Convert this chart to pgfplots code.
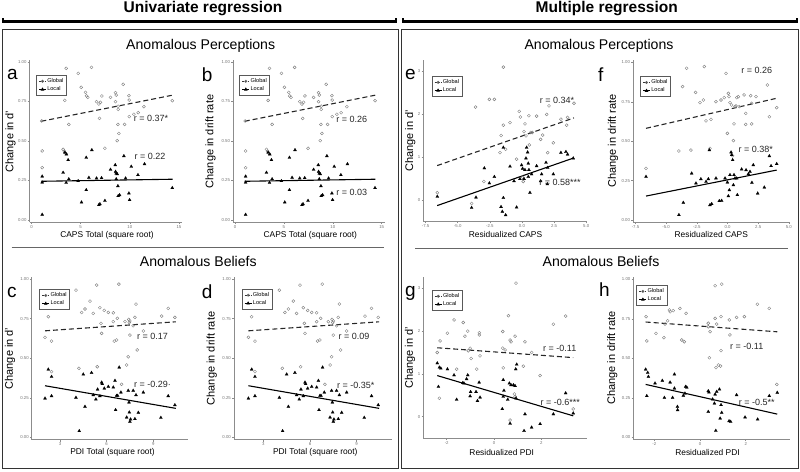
\documentclass[border=0pt]{standalone}
\usepackage{fontspec}
\setmainfont{Liberation Sans}
\usepackage{pgfplots}
\pgfplotsset{compat=1.18}
\usepackage{pgfplotstable}
\newcommand{\fs}[1]{\fontsize{#1}{#1}\selectfont}

% ---------- data ----------
\pgfplotstableread{
x y
1.04 0.627
1.09 0.437
1.09 0.331
3.39 0.757
3.53 0.96
3.80 0.605
3.22 0.447
3.49 0.42
3.35 0.435
4.75 0.928
5.06 0.84
5.50 0.808
5.60 0.785
5.73 0.776
6.10 0.966
6.62 0.749
6.85 0.734
7.02 0.745
7.16 0.785
6.92 0.643
7.47 0.454
8.04 0.776
8.55 0.806
8.62 0.791
8.55 0.749
8.82 0.70
8.82 0.72
8.79 0.605
8.89 0.548
8.72 0.502
9.33 0.859
9.47 0.605
9.91 0.787
9.94 0.759
9.95 0.654
10.42 0.669
10.86 0.679
11.44 0.717
14.32 0.755
}\aG
\pgfplotstableread{
x y
1.09 0.034
1.09 0.276
1.09 0.238
3.22 0.30
3.39 0.428
3.56 0.416
3.73 0.38
3.53 0.236
3.80 0.259
4.75 0.247
5.09 0.112
5.57 0.395
5.57 0.19
5.84 0.268
6.14 0.443
6.62 0.264
6.85 0.095
6.96 0.101
7.13 0.266
7.47 0.122
8.04 0.319
8.52 0.348
8.55 0.306
8.62 0.295
8.72 0.291
8.79 0.215
8.82 0.152
8.96 0.158
8.62 0.259
9.40 0.405
9.57 0.264
9.91 0.169
9.98 0.127
10.15 0.338
10.83 0.285
11.50 0.354
14.32 0.203
}\aL
\pgfplotstableread{
x y
2.04 0.632
2.25 0.762
2.46 0.608
2.46 0.415
4.03 0.93
4.22 0.436
4.39 0.789
4.61 0.811
4.93 0.861
5.14 0.783
5.36 0.962
5.40 0.446
5.57 0.819
5.64 0.72
5.68 0.657
5.85 0.802
6.11 0.789
6.43 0.787
6.43 0.731
6.49 0.608
6.64 0.615
6.69 0.752
6.79 0.968
6.96 0.335
7.18 0.731
7.29 0.457
7.39 0.509
7.50 0.646
7.42 0.745
7.50 0.735
7.46 0.725
7.71 0.705
7.82 0.758
7.89 0.842
7.97 0.552
8.36 0.672
9.54 0.766
9.96 0.815
10.39 0.758
}\cG
\pgfplotstableread{
x y
2.04 0.246
2.25 0.429
2.46 0.383
2.46 0.261
4.03 0.251
4.24 0.04
4.50 0.398
4.61 0.194
5.03 0.408
5.14 0.267
5.31 0.24
5.42 0.303
5.57 0.261
5.68 0.347
5.72 0.337
5.85 0.309
6.11 0.32
6.43 0.316
6.54 0.358
6.58 0.173
6.64 0.263
6.71 0.263
6.81 0.442
6.92 0.284
7.29 0.126
7.39 0.295
7.44 0.221
7.46 0.158
7.50 0.099
7.54 0.114
7.71 0.295
7.82 0.116
7.89 0.267
8.04 0.156
8.36 0.284
9.49 0.124
9.96 0.261
10.39 0.204
}\cL
\pgfplotstableread{
x y
-6.59 0.17
-3.92 -0.08
-3.61 2.16
-2.54 2.34
-2.15 2.34
-2.96 0.43
-1.63 1.50
-1.45 1.74
-1.45 3.09
-1.71 1.10
-1.27 1.18
-0.93 1.80
-0.42 0.95
-0.21 2.06
-0.13 1.93
0.05 0.53
0.10 0.43
0.16 1.59
0.23 1.77
0.31 1.49
0.54 1.96
0.57 1.28
0.67 1.57
0.80 1.57
1.14 1.95
1.45 1.41
1.61 1.51
1.92 1.99
2.00 1.10
2.10 2.19
2.44 1.33
3.03 1.88
3.48 1.74
3.55 1.92
4.05 2.25
}\eG
\pgfplotstableread{
x y
-6.59 0.08
-3.92 -0.18
-3.58 0.06
-2.93 0.74
-2.54 0.39
-2.15 0.54
-1.63 -0.16
-1.53 -0.27
-1.45 0.05
-1.45 1.22
-1.27 -0.35
-0.93 0.78
-0.62 0.44
-0.42 -0.17
-0.16 0.49
-0.03 0.81
0.05 0.73
0.16 0.49
0.23 0.70
0.31 0.97
0.36 1.22
0.44 1.11
0.49 0.85
0.54 0.70
0.49 0.54
0.62 0.17
0.75 0.60
1.14 0.79
1.45 0.44
1.53 0.60
1.87 0.87
2.00 0.75
1.97 0.37
2.44 0.60
3.03 1.10
3.42 1.12
3.55 1.06
3.99 0.97
}\eL
\pgfplotstableread{
x y
-6.64 0.328
-3.96 0.438
-3.66 0.847
-2.98 0.444
-2.60 0.81
-3.33 0.963
-1.89 0.974
-2.24 0.745
-1.97 0.762
-1.75 0.629
-1.35 0.639
-1.43 0.455
-0.94 0.751
-0.53 0.762
-0.26 0.777
-0.12 0.931
-0.01 0.55
0.07 0.804
0.12 0.783
0.20 0.745
0.34 0.73
0.42 0.408
0.48 0.504
0.53 0.61
0.61 0.72
0.75 0.777
0.69 0.724
0.88 0.783
0.96 0.72
1.35 0.794
1.48 0.677
1.48 0.607
1.89 0.789
1.97 0.741
1.97 0.61
2.32 0.783
3.25 0.857
3.41 0.656
4.01 0.713
}\fG
\pgfplotstableread{
x y
-6.64 0.275
-3.96 0.032
-3.60 0.11
-2.92 0.296
-2.57 0.233
-2.17 0.26
-1.75 0.243
-1.56 0.26
-1.48 0.444
-1.43 0.095
-1.29 0.102
-0.94 0.265
-0.67 0.121
-0.48 0.123
-0.20 0.265
-0.01 0.239
0.07 0.152
0.15 0.19
0.20 0.286
0.29 0.43
0.34 0.413
0.42 0.381
0.48 0.222
0.53 0.286
0.61 0.265
0.75 0.265
0.80 0.159
1.15 0.322
1.51 0.317
1.70 0.292
1.83 0.307
1.99 0.237
2.10 0.349
2.46 0.169
3.00 0.207
3.41 0.406
3.55 0.343
4.01 0.356
}\fL
\pgfplotstableread{
x y
-2.40 1.50
-2.31 0.43
-2.28 1.77
-1.97 1.95
-1.69 2.26
-1.58 1.11
-1.30 2.20
-1.23 1.88
-1.11 2.00
-1.09 1.54
-0.97 1.36
-1.01 1.60
-0.73 1.11
-0.62 1.96
-0.62 1.91
-0.59 1.42
0.37 1.99
0.37 1.60
0.39 1.14
0.47 1.56
0.61 2.36
0.68 1.79
0.72 1.75
0.68 -0.08
0.89 1.88
0.93 3.12
0.89 0.47
0.86 0.53
1.24 1.18
1.31 1.75
1.59 1.50
1.95 0.96
2.51 2.16
3.03 2.35
3.35 0.18
}\gG
\pgfplotstableread{
x y
-2.40 1.25
-2.35 0.70
-2.31 1.15
-2.25 1.13
-1.97 1.11
-1.69 0.97
-1.58 0.40
-1.32 0.79
-1.27 0.78
-1.16 0.88
-1.11 0.97
-1.01 0.48
-0.99 0.58
-0.76 0.58
-0.70 0.37
-0.63 0.80
-0.59 0.45
0.35 0.18
0.39 0.86
0.42 0.61
0.39 0.47
0.58 0.40
0.65 0.78
0.68 -0.16
0.72 0.74
0.82 0.74
0.89 0.72
0.92 1.11
0.96 1.22
0.93 0.43
1.27 -0.33
1.31 0.06
1.59 -0.25
1.95 -0.17
2.51 0.06
3.03 0.55
3.35 0.08
}\gL
\pgfplotstableread{
x y
-2.36 0.764
-2.33 0.61
-1.93 0.658
-1.58 0.631
-1.60 0.932
-1.42 0.738
-1.53 0.717
-1.34 0.806
-1.31 0.795
-1.17 0.802
-0.88 0.816
-0.80 0.616
-0.69 0.605
-0.61 0.785
0.36 0.722
0.36 0.70
0.41 0.504
0.44 0.669
0.66 0.96
0.66 0.753
0.73 0.717
0.70 0.441
0.80 0.458
0.92 0.764
0.95 0.97
0.92 0.549
0.90 0.451
1.28 0.743
1.31 0.648
1.60 0.759
1.94 0.764
2.51 0.842
3.03 0.816
3.36 0.335
}\hG
\pgfplotstableread{
x y
-2.38 0.43
-2.33 0.262
-2.29 0.409
-2.26 0.384
-1.97 0.342
-1.65 0.359
-1.56 0.251
-1.31 0.348
-1.20 0.251
-1.12 0.399
-1.12 0.31
-0.99 0.194
-0.98 0.173
-0.73 0.264
-0.66 0.278
-0.63 0.321
-0.58 0.316
0.36 0.293
0.39 0.285
0.36 0.162
0.55 0.241
0.63 0.215
0.66 0.272
0.69 0.042
0.73 0.289
0.85 0.304
0.92 0.205
0.95 0.156
0.88 0.12
1.27 0.103
1.34 0.099
1.60 0.268
1.97 0.127
2.52 0.114
3.03 0.262
3.38 0.283
}\hL

% ---------- styles ----------
\pgfplotsset{
  panel/.style={
    scale only axis, anchor=south west,
    axis lines*=left,
    axis line style={draw=black!45, line width=0.5pt},
    tick style={draw=black!45, line width=0.5pt},
    tick align=outside, major tick length=1.8pt,
    xticklabel style={font=\fs{4.3}, text=black!55, inner sep=1pt},
    yticklabel style={font=\fs{4.3}, text=black!55, inner sep=1pt},
    clip=false,
    legend cell align=left,
    legend style={anchor=north west, draw=black!65, line width=0.8pt, fill=white,
      font=\fs{5.6}, inner xsep=2.2pt, inner ysep=2.2pt, row sep=0.8pt,
      nodes={inner sep=0.9pt}},
    legend image code/.code={\draw[mark repeat=2,mark phase=2,##1] plot coordinates {(0pt,0pt) (3.5pt,0pt) (7pt,0pt)};},
  },
  gpts/.style={only marks, black!50, mark=o, mark size=1.5pt, mark options={draw=black!50, line width=0.4pt}, forget plot},
  lpts/.style={only marks, black, mark=triangle*, mark size=1.8pt, mark options={fill=black, draw=black, line width=0.2pt}, forget plot},
  gline/.style={black!85, line width=1.1pt, dash pattern=on 5pt off 3pt, forget plot, mark=none},
  lline/.style={black, line width=1.1pt, forget plot, mark=none},
  gkey/.style={black!80, line width=0.7pt, dash pattern=on 2pt off 1pt, mark=o, mark options={solid, scale=0.55, draw=black!60}},
  lkey/.style={black, line width=0.7pt, mark=triangle*, mark options={scale=0.7}},
  unit/.style={ymin=-0.013, ymax=1.013, ytick={0,0.25,0.5,0.75,1}, yticklabels={0.00,0.25,0.50,0.75,1.00}},
}

\begin{document}
\begin{tikzpicture}
% ===== a =====
\begin{axis}[panel, unit, at={(29.5pt,248.95pt)}, width=152.4pt, height=162.1pt,
  xmin=-0.2, xmax=15.3, xtick={0,5,10,15}, xticklabels={0,5,10,15},
  legend style={at={(0.043,0.907)}}]
\addlegendimage{gkey}\addlegendentry{Global}
\addlegendimage{lkey}\addlegendentry{Local}
\addplot[gpts] table {\aG};
\addplot[lpts] table {\aL};
\addplot[gline] coordinates {(1,0.625) (14.35,0.79)};
\addplot[lline] coordinates {(1,0.245) (14.35,0.258)};
\end{axis}
% ===== b =====
\begin{axis}[panel, unit, at={(233pt,248.95pt)}, width=151.6pt, height=162.1pt,
  xmin=-0.2, xmax=15.3, xtick={0,5,10,15}, xticklabels={0,5,10,15},
  legend style={at={(0.042,0.907)}}]
\addlegendimage{gkey}\addlegendentry{Global}
\addlegendimage{lkey}\addlegendentry{Local}
\addplot[gpts] table {\aG};
\addplot[lpts] table {\aL};
\addplot[gline] coordinates {(1,0.625) (14.35,0.79)};
\addplot[lline] coordinates {(1,0.245) (14.35,0.258)};
\end{axis}
% ===== c =====
\begin{axis}[panel, at={(31.65pt,31.3pt)}, width=156.6pt, height=163pt,
  ymin=-0.015, ymax=1.015, ytick={0,0.25,0.5,0.75,1}, yticklabels={0.00,0.25,0.50,0.75,1.00},
  xmin=1.18, xmax=11.25, xtick={3,6,9}, xticklabels={3,6,9},
  legend style={at={(0.049,0.923)}}]
\addlegendimage{gkey}\addlegendentry{Global}
\addlegendimage{lkey}\addlegendentry{Local}
\addplot[gpts] table {\cG};
\addplot[lpts] table {\cL};
\addplot[gline] coordinates {(2.04,0.673) (10.45,0.73)};
\addplot[lline] coordinates {(2.04,0.326) (10.45,0.183)};
\end{axis}
% ===== d =====
\begin{axis}[panel, at={(233.8pt,31.3pt)}, width=157.8pt, height=163pt,
  ymin=-0.015, ymax=1.015, ytick={0,0.25,0.5,0.75,1}, yticklabels={0.00,0.25,0.50,0.75,1.00},
  xmin=1.1, xmax=11.25, xtick={3,6,9}, xticklabels={3,6,9},
  legend style={at={(0.05,0.925)}}]
\addlegendimage{gkey}\addlegendentry{Global}
\addlegendimage{lkey}\addlegendentry{Local}
\addplot[gpts] table {\cG};
\addplot[lpts] table {\cL};
\addplot[gline] coordinates {(2.04,0.673) (10.45,0.73)};
\addplot[lline] coordinates {(2.04,0.326) (10.45,0.183)};
\end{axis}
% ===== e =====
\begin{axis}[panel, at={(423.3pt,249.5pt)}, width=163.3pt, height=161.25pt,
  ymin=-0.5, ymax=3.25, ytick={0,1,2,3}, yticklabels={0,1,2,3},
  xmin=-7.68, xmax=5.03, xtick={-7.5,-5,-2.5,0,2.5,5}, xticklabels={-7.5,-5.0,-2.5,0.0,2.5,5.0},
  legend style={at={(0.051,0.902)}}]
\addlegendimage{gkey}\addlegendentry{Global}
\addlegendimage{lkey}\addlegendentry{Local}
\addplot[gpts] table {\eG};
\addplot[lpts] table {\eL};
\addplot[gline] coordinates {(-6.6,0.80) (4.05,1.91)};
\addplot[lline] coordinates {(-6.6,-0.13) (4.05,0.98)};
\end{axis}
% ===== f =====
\begin{axis}[panel, unit, at={(633pt,248.95pt)}, width=157.1pt, height=161.6pt,
  xmin=-7.7, xmax=5.1, xtick={-7.5,-5,-2.5,0,2.5,5}, xticklabels={-7.5,-5.0,-2.5,0.0,2.5,5.0},
  legend style={at={(0.045,0.902)}}]
\addlegendimage{gkey}\addlegendentry{Global}
\addlegendimage{lkey}\addlegendentry{Local}
\addplot[gpts] table {\fG};
\addplot[lpts] table {\fL};
\addplot[gline] coordinates {(-6.64,0.582) (4.01,0.773)};
\addplot[lline] coordinates {(-6.64,0.152) (4.01,0.317)};
\end{axis}
% ===== g =====
\begin{axis}[panel, at={(423.3pt,32.9pt)}, width=163.4pt, height=161.4pt,
  ymin=-0.5, ymax=3.27, ytick={0,1,2,3}, yticklabels={0,1,2,3},
  xmin=-2.99, xmax=3.92, xtick={-2,0,2}, xticklabels={-2,0,2},
  legend style={at={(0.052,0.918)}}]
\addlegendimage{gkey}\addlegendentry{Global}
\addlegendimage{lkey}\addlegendentry{Local}
\addplot[gpts] table {\gG};
\addplot[lpts] table {\gL};
\addplot[gline] coordinates {(-2.4,1.61) (3.35,1.38)};
\addplot[lline] coordinates {(-2.4,0.96) (3.35,0.02)};
\end{axis}
% ===== h =====
\begin{axis}[panel, unit, at={(633.3pt,31.6pt)}, width=156.75pt, height=162.1pt,
  xmin=-2.92, xmax=3.94, xtick={-2,0,2}, xticklabels={-2,0,2},
  legend style={at={(0.02,0.952)}}]
\addlegendimage{gkey}\addlegendentry{Global}
\addlegendimage{lkey}\addlegendentry{Local}
\addplot[gpts] table {\hG};
\addplot[lpts] table {\hL};
\addplot[gline] coordinates {(-2.38,0.73) (3.38,0.668)};
\addplot[lline] coordinates {(-2.38,0.335) (3.38,0.147)};
\end{axis}

\begin{scope}[x=1pt,y=1pt]
% frames
\draw[black!80, line width=0.9pt] (2,3) rectangle (398.5,441.5);
\draw[black!80, line width=0.9pt] (401,3) rectangle (798.5,441.5);
% headers
\node[anchor=base, font=\fs{15.5}\bfseries] at (203,458.5) {Univariate regression};
\node[anchor=base, font=\fs{15.5}\bfseries] at (606.7,458.5) {Multiple regression};
\draw[line width=2.2pt, black] (3,452.5) -- (3,449.5) -- (396,449.5) -- (396,452.5);
\draw[line width=2.2pt, black] (403,452.5) -- (403,449.5) -- (797,449.5) -- (797,452.5);
% section titles
\node[anchor=base, font=\fs{14.1}] at (200.7,421.5) {Anomalous Perceptions};
\node[anchor=base, font=\fs{14.1}] at (599,421.5) {Anomalous Perceptions};
\node[anchor=base, font=\fs{14.1}] at (198.3,204.2) {Anomalous Beliefs};
\node[anchor=base, font=\fs{14.1}] at (601,204.2) {Anomalous Beliefs};
\draw[black!60, line width=0.7pt] (11.7,223.7) -- (384.3,223.7);
\draw[black!60, line width=0.7pt] (415,222.7) -- (788.3,222.7);
% panel letters
\node[anchor=base west, inner sep=0, font=\fs{19}] at (7,391) {a};
\node[anchor=base west, inner sep=0, font=\fs{19}] at (201.7,389.5) {b};
\node[anchor=base west, inner sep=0, font=\fs{19}] at (7,173) {c};
\node[anchor=base west, inner sep=0, font=\fs{19}] at (201.7,172.7) {d};
\node[anchor=base west, inner sep=0, font=\fs{19}] at (405,391) {e};
\node[anchor=base west, inner sep=0, font=\fs{19}] at (598,389) {f};
\node[anchor=base west, inner sep=0, font=\fs{19}] at (405,174) {g};
\node[anchor=base west, inner sep=0, font=\fs{19}] at (599,174.3) {h};
% y labels
\node[rotate=90, font=\fs{11}] at (10.5,329.5) {Change in d'};
\node[rotate=90, font=\fs{11}] at (210.5,329.5) {Change in drift rate};
\node[rotate=90, font=\fs{11}] at (10,112.5) {Change in d'};
\node[rotate=90, font=\fs{11}] at (211.7,112.5) {Change in drift rate};
\node[rotate=90, font=\fs{11}] at (410.3,330) {Change in d'};
\node[rotate=90, font=\fs{11}] at (613,330) {Change in drift rate};
\node[rotate=90, font=\fs{11}] at (410,113) {Change in d'};
\node[rotate=90, font=\fs{11}] at (612.3,113) {Change in drift rate};
% x labels
\node[font=\fs{8.4}] at (107,236) {CAPS Total (square root)};
\node[font=\fs{8.4}] at (310.3,236) {CAPS Total (square root)};
\node[font=\fs{8.4}] at (112.5,18.3) {PDI Total (square root)};
\node[font=\fs{8.4}] at (315.3,18.3) {PDI Total (square root)};
\node[font=\fs{8.4}] at (505.5,236) {Residualized CAPS};
\node[font=\fs{8.4}] at (711.3,236) {Residualized CAPS};
\node[font=\fs{8.4}] at (501.7,18.3) {Residualized PDI};
\node[font=\fs{8.4}] at (707.5,18.3) {Residualized PDI};
% r annotations
\begin{scope}[every node/.style={font=\fs{9}, text=black!85}]
\node at (151,353) {r = 0.37*};
\node at (150,315) {r = 0.22};
\node at (351.7,352) {r = 0.26};
\node at (351.7,278.5) {r = 0.03};
\node at (152.5,135) {r = 0.17};
\node at (152.5,87) {r = -0.29·};
\node at (354,135) {r = 0.09};
\node at (355.8,85.2) {r = -0.35*};
\node at (557,370.2) {r = 0.34*};
\node at (560,288.5) {r = 0.58***};
\node at (756.7,400.2) {r = 0.26};
\node at (755.8,322) {r = 0.38*};
\node at (559.7,123) {r = -0.11};
\node at (560.3,68.5) {r = -0.6***};
\node at (746.7,124.7) {r = -0.11};
\node at (756.7,68.5) {r = -0.5**};
\end{scope}
\end{scope}
\pgfresetboundingbox
\useasboundingbox (0pt,0pt) rectangle (800pt,471pt);
\end{tikzpicture}
\end{document}
